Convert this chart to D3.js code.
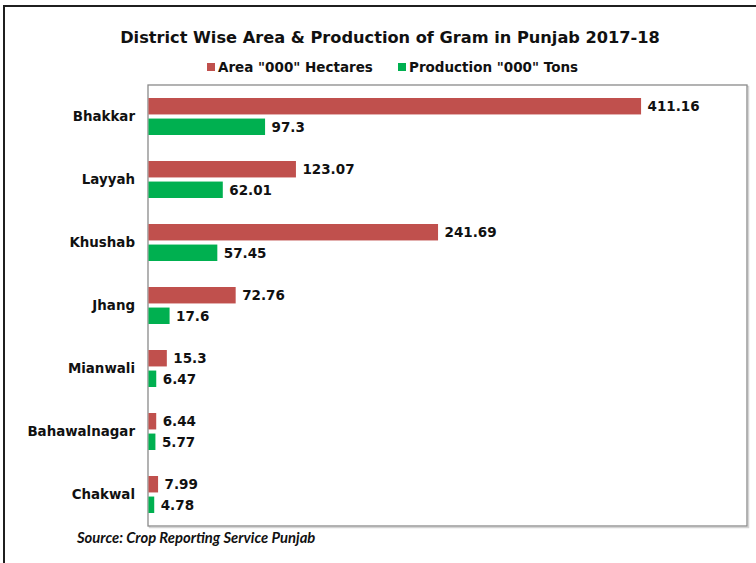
<!DOCTYPE html>
<html>
<head>
<meta charset="utf-8">
<script src="https://cdn.jsdelivr.net/npm/d3@7"></script>
<style>
  html, body { margin: 0; padding: 0; background: #fff; }
  svg { display: block; }
</style>
</head>
<body>
<svg id="chart" width="756" height="563"></svg>
<script>
const categories = ["Bhakkar", "Layyah", "Khushab", "Jhang", "Mianwali", "Bahawalnagar", "Chakwal"];
const seriesNames = ["Area \"000\" Hectares", "Production \"000\" Tons"];
const areaValues = [411.16, 123.07, 241.69, 72.76, 15.3, 6.44, 7.99];
const productionValues = [97.3, 62.01, 57.45, 17.6, 6.47, 5.77, 4.78];
const areaLabels = ["411.16", "123.07", "241.69", "72.76", "15.3", "6.44", "7.99"];
const productionLabels = ["97.3", "62.01", "57.45", "17.6", "6.47", "5.77", "4.78"];
const seriesColors = ["#C0504D", "#00B050"];
const titleText = "District Wise Area & Production of Gram in Punjab 2017-18";
const sourceText = "Source: Crop Reporting Service Punjab";

const svg = d3.select("#chart");
const W = 756, H = 563;
const plot = { left: 148, right: 747, top: 85, bottom: 526 };

// outer frame (left and top edges)
svg.append("path")
  .attr("d", `M4,${H} L4,6 L${W},6`)
  .attr("fill", "none").attr("stroke", "#1f1f1f").attr("stroke-width", 2);

// title
svg.append("text")
  .attr("x", 390).attr("y", 43)
  .attr("text-anchor", "middle")
  .attr("font-family", "DejaVu Sans").attr("font-weight", "bold")
  .attr("font-size", 16.2).attr("fill", "#111")
  .text(titleText);

// legend
const legend = [
  { name: seriesNames[0], color: seriesColors[0], x: 207 },
  { name: seriesNames[1], color: seriesColors[1], x: 398 }
];
const lg = svg.append("g");
legend.forEach(d => {
  lg.append("rect").attr("x", d.x).attr("y", 63).attr("width", 8).attr("height", 8).attr("fill", d.color);
  lg.append("text").attr("x", d.x + 11).attr("y", 72)
    .attr("font-family", "DejaVu Sans").attr("font-weight", "bold")
    .attr("font-size", 13.5).attr("fill", "#111").text(d.name);
});

// scales
const x = d3.scaleLinear().domain([0, 500]).range([plot.left, plot.right]);
const y = d3.scaleBand().domain(categories).range([plot.top, plot.bottom]).padding(0);
const inner = d3.scaleBand().domain([0, 1]).range([13, 50]).paddingInner(0.2).paddingOuter(0);

// plot area border (with soft shadow)
svg.append("rect")
  .attr("x", plot.left + 1.5).attr("y", plot.top + 1.5)
  .attr("width", plot.right - plot.left).attr("height", plot.bottom - plot.top)
  .attr("fill", "none").attr("stroke", "#d4d4d4").attr("stroke-width", 1.5);
svg.append("rect")
  .attr("x", plot.left).attr("y", plot.top)
  .attr("width", plot.right - plot.left).attr("height", plot.bottom - plot.top)
  .attr("fill", "#fff").attr("stroke", "#8a8a8a").attr("stroke-width", 1.3);

// bars
const rows = categories.map((c, i) => ({
  cat: c,
  vals: [
    { s: 0, v: areaValues[i], label: areaLabels[i] },
    { s: 1, v: productionValues[i], label: productionLabels[i] }
  ]
}));

const g = svg.append("g");
const groups = g.selectAll("g.cat").data(rows).join("g")
  .attr("class", "cat")
  .attr("transform", d => `translate(0,${y(d.cat)})`);

groups.selectAll("rect").data(d => d.vals).join("rect")
  .attr("x", x(0) + 0.5)
  .attr("y", d => inner(d.s))
  .attr("width", d => x(d.v) - x(0))
  .attr("height", inner.bandwidth())
  .attr("fill", d => seriesColors[d.s]);

groups.selectAll("text.val").data(d => d.vals).join("text")
  .attr("class", "val")
  .attr("x", d => x(d.v) + 7)
  .attr("y", d => inner(d.s) + inner.bandwidth() / 2)
  .attr("dy", "0.36em")
  .attr("font-family", "DejaVu Sans").attr("font-weight", "bold")
  .attr("font-size", 13.5).attr("fill", "#111")
  .text(d => d.label);

// category axis
const yAxis = d3.axisLeft(y).tickSize(0).tickPadding(13);
const ax = svg.append("g").attr("transform", `translate(${plot.left},0)`).call(yAxis);
ax.select(".domain").remove();
ax.selectAll("text")
  .attr("font-family", "DejaVu Sans").attr("font-weight", "bold")
  .attr("font-size", 13.4).attr("fill", "#111");

// source
svg.append("text")
  .attr("x", 77).attr("y", 543)
  .attr("font-family", "Lato").attr("font-weight", "bold").attr("font-style", "italic")
  .attr("font-size", 14.8).attr("fill", "#111")
  .text(sourceText);
</script>
</body>
</html>
